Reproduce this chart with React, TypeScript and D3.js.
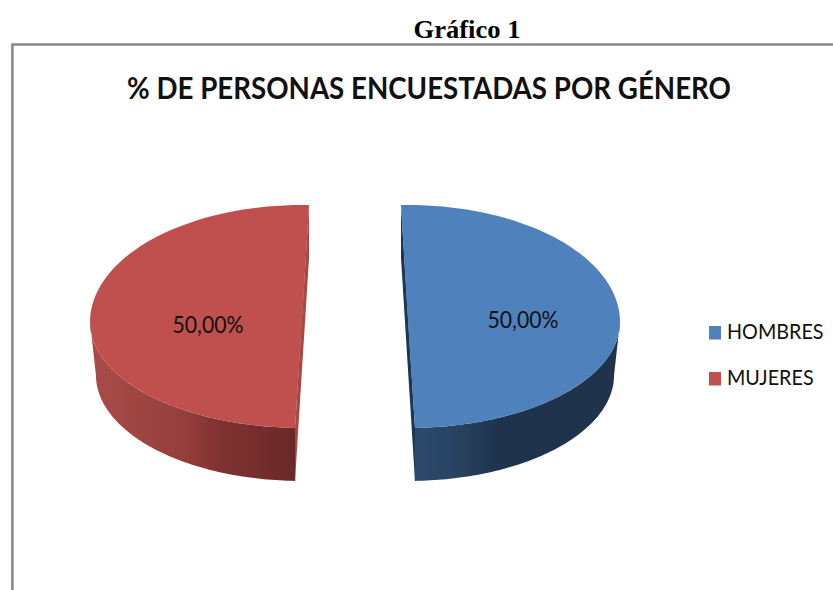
import React from "react";
import * as d3 from "d3";

const categories = ["HOMBRES", "MUJERES"];
const values = [50, 50];
const valueLabels = ["50,00%", "50,00%"];
const topColors = ["#4f81bd", "#c0504d"];
const captionText = "Gráfico 1";
const titleText = "% DE PERSONAS ENCUESTADAS POR GÉNERO";

const W = 833, H = 590;
const CX = 355, CY = 322, RX = 212, DEPTH = 53, EXPLODE = 53, BASE_SHRINK = 0.972;
const TILT = [-0.033, 0.033];

const sx = d3.scaleLinear().domain([-1, 1]).range([-RX, RX]);
// the perspective makes the back half of the ellipse taller than the front half
const sy = d3.scaleLinear().domain([-1, 0, 1]).range([-117, 0, 106]);
const pie = d3.pie<number>().sort(null).startAngle(0).endAngle(Math.PI * 2);
const arcs = pie(values);

const pt = (a: number, c: [number, number], dy = 0, k = 1): [number, number] => [
  c[0] + sx(Math.sin(a)) * k,
  c[1] + sy(-Math.cos(a)) + dy,
];
const line = d3.line<[number, number]>();
const sweep = (a0: number, a1: number) => d3.range(0, 81).map((i) => a0 + ((a1 - a0) * i) / 80);

export default function App() {
  return (
    <svg width={W} height={H} style={{ position: "absolute", left: 0, top: 0, background: "#fff" }}>
      <defs>
        <linearGradient id="wall0" x1="0" x2="1" y1="0" y2="0">
          <stop offset="0" stopColor="#2c4a6e" />
          <stop offset="0.2" stopColor="#284362" />
          <stop offset="0.4" stopColor="#1f334d" />
          <stop offset="1" stopColor="#1f334d" />
        </linearGradient>
        <linearGradient id="wall1" x1="0" x2="1" y1="0" y2="0">
          <stop offset="0" stopColor="#a84c49" />
          <stop offset="0.45" stopColor="#953f3d" />
          <stop offset="0.62" stopColor="#803331" />
          <stop offset="1" stopColor="#692928" />
        </linearGradient>
      </defs>
      <text x={467} y={37.5} textAnchor="middle" fontFamily="Liberation Serif" fontWeight="bold" fontSize={25.5} textLength={107} lengthAdjust="spacingAndGlyphs">
        {captionText}
      </text>
      <path d="M12.4 590V44.4H833" fill="none" stroke="#868686" strokeWidth={2.5} />
      <text x={429} y={98.5} textAnchor="middle" fontFamily="Lato" fontWeight="bold" fontSize={30} textLength={604} lengthAdjust="spacingAndGlyphs" fill="#111">
        {titleText}
      </text>
      {arcs.map((d, i) => {
        const mid = (d.startAngle + d.endAngle) / 2;
        const c: [number, number] = [CX + EXPLODE * Math.sin(mid), CY];
        const isRight = i === 0;
        const a0 = d.startAngle + TILT[i];
        const a1 = d.endAngle + TILT[i];
        const top = sweep(a0, a1).map((a) => pt(a, c));
        const wallA0 = isRight ? Math.PI / 2 : a0;
        const wallA1 = isRight ? a1 : (Math.PI * 3) / 2;
        const wallTop = sweep(wallA0, wallA1).map((a) => pt(a, c));
        const wallBottom = sweep(wallA0, wallA1).map((a) => pt(a, c, DEPTH, BASE_SHRINK)).reverse();
        const p1 = pt(a0, c);
        const p2 = pt(a1, c);
        const cut = [p1, [p1[0], p1[1] + DEPTH], [p2[0], p2[1] + DEPTH], p2] as [number, number][];
        return (
          <g key={categories[i]}>
            <path d={line(cut) + "Z"} fill={isRight ? "#1c3654" : "#a94744"} />
            <path d={line([...wallTop, ...wallBottom]) + "Z"} fill={`url(#wall${i})`} />
            <path d={line([...top, c]) + "Z"} fill={topColors[i]} />
          </g>
        );
      })}
      <text x={208} y={333} textAnchor="middle" fontFamily="Lato" fontSize={23} textLength={71} lengthAdjust="spacingAndGlyphs" fill="#111">{valueLabels[1]}</text>
      <text x={523} y={328} textAnchor="middle" fontFamily="Lato" fontSize={23} textLength={71} lengthAdjust="spacingAndGlyphs" fill="#111">{valueLabels[0]}</text>
      {categories.map((c, i) => (
        <g key={c}>
          <rect x={709} y={326 + i * 46} width={12} height={13.5} fill={topColors[i]} />
          <text transform={`translate(727,${339 + i * 46}) scale(0.92,1)`} fontFamily="Lato" fontSize={21.5} fill="#111">{c}</text>
        </g>
      ))}
    </svg>
  );
}
